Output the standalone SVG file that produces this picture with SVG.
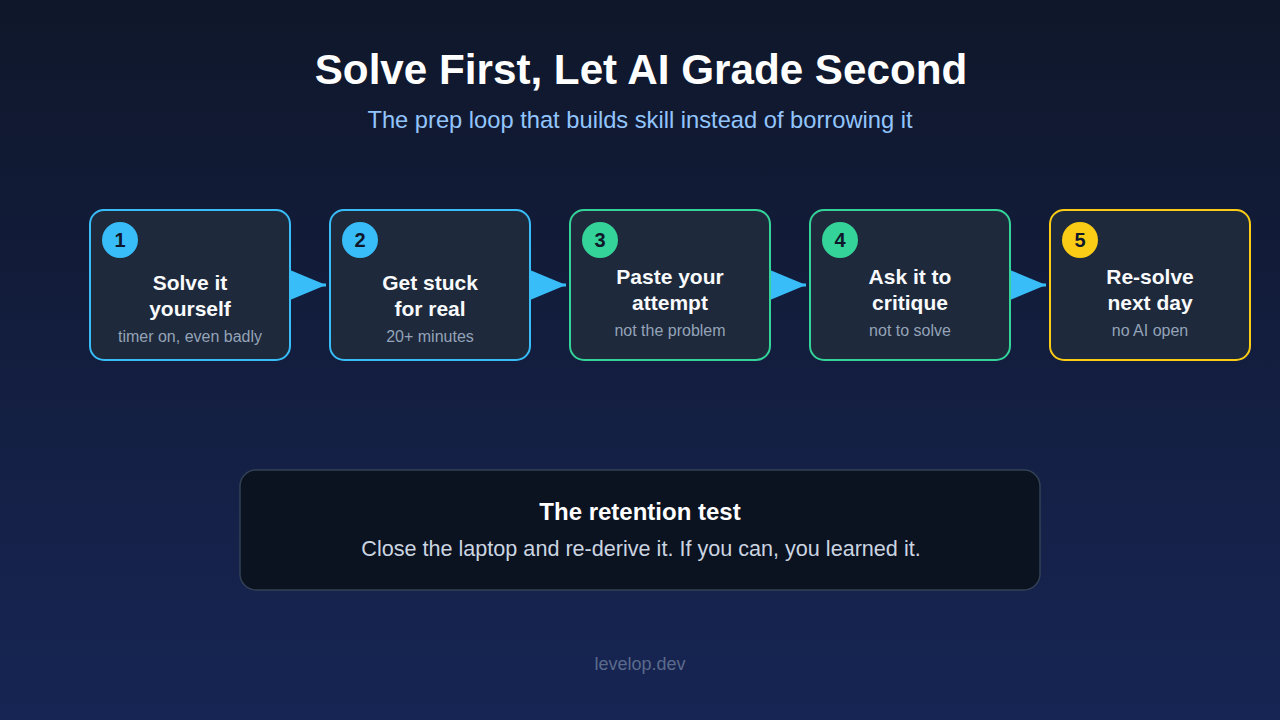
<svg xmlns="http://www.w3.org/2000/svg" width="1280" height="720" viewBox="0 0 1280 720">
  <defs>
    <linearGradient id="bg" x1="0" y1="0" x2="0" y2="1">
      <stop offset="0" stop-color="#0f172a"/>
      <stop offset="1" stop-color="#172554"/>
    </linearGradient>
    <marker id="arrow" markerWidth="12" markerHeight="10" refX="12" refY="5" orient="auto" markerUnits="strokeWidth">
      <path d="M0,0 L12,5 L0,10 z" fill="#38bdf8"/>
    </marker>
    <style>
      text { font-family: "Liberation Sans", Arial, sans-serif; text-anchor: middle; }
      .title { font-size: 42.2px; font-weight: bold; fill: #ffffff; }
      .subtitle { font-size: 23.7px; fill: #93c5fd; }
      .card { fill: #1e293b; stroke-width: 2; }
      .blue { stroke: #38bdf8; }
      .green { stroke: #34d399; }
      .yellow { stroke: #facc15; }
      .num { font-size: 20px; font-weight: bold; fill: #0f172a; }
      .head { font-size: 21px; font-weight: bold; fill: #f8fafc; }
      .sub { font-size: 16px; fill: #94a3b8; }
      .conn { stroke: #38bdf8; stroke-width: 3; fill: none; }
      .box { fill: #0b1220; stroke: #334155; stroke-width: 1.5; }
      .boxtitle { font-size: 24px; font-weight: bold; fill: #ffffff; }
      .boxbody { font-size: 21.6px; fill: #cbd5e1; }
      .footer { font-size: 18px; fill: #5b6b8c; }
    </style>
  </defs>
  <rect x="0" y="0" width="1280" height="720" fill="url(#bg)"/>

  <text class="title" x="641" y="84">Solve First, Let AI Grade Second</text>
  <text class="subtitle" x="640" y="128">The prep loop that builds skill instead of borrowing it</text>

  <g id="connectors">
    <line class="conn" x1="290" y1="285" x2="326" y2="285" marker-end="url(#arrow)"/>
    <line class="conn" x1="530" y1="285" x2="566" y2="285" marker-end="url(#arrow)"/>
    <line class="conn" x1="770" y1="285" x2="806" y2="285" marker-end="url(#arrow)"/>
    <line class="conn" x1="1010" y1="285" x2="1046" y2="285" marker-end="url(#arrow)"/>
  </g>

  <g id="step1">
    <rect class="card blue" x="90" y="210" width="200" height="150" rx="14"/>
    <circle cx="120" cy="240" r="18" fill="#38bdf8"/>
    <text class="num" x="120" y="247">1</text>
    <text class="head" x="190" y="290">Solve it</text>
    <text class="head" x="190" y="316">yourself</text>
    <text class="sub" x="190" y="342">timer on, even badly</text>
  </g>

  <g id="step2">
    <rect class="card blue" x="330" y="210" width="200" height="150" rx="14"/>
    <circle cx="360" cy="240" r="18" fill="#38bdf8"/>
    <text class="num" x="360" y="247">2</text>
    <text class="head" x="430" y="290">Get stuck</text>
    <text class="head" x="430" y="316">for real</text>
    <text class="sub" x="430" y="342">20+ minutes</text>
  </g>

  <g id="step3">
    <rect class="card green" x="570" y="210" width="200" height="150" rx="14"/>
    <circle cx="600" cy="240" r="18" fill="#34d399"/>
    <text class="num" x="600" y="247">3</text>
    <text class="head" x="670" y="284">Paste your</text>
    <text class="head" x="670" y="310">attempt</text>
    <text class="sub" x="670" y="336">not the problem</text>
  </g>

  <g id="step4">
    <rect class="card green" x="810" y="210" width="200" height="150" rx="14"/>
    <circle cx="840" cy="240" r="18" fill="#34d399"/>
    <text class="num" x="840" y="247">4</text>
    <text class="head" x="910" y="284">Ask it to</text>
    <text class="head" x="910" y="310">critique</text>
    <text class="sub" x="910" y="336">not to solve</text>
  </g>

  <g id="step5">
    <rect class="card yellow" x="1050" y="210" width="200" height="150" rx="14"/>
    <circle cx="1080" cy="240" r="18" fill="#facc15"/>
    <text class="num" x="1080" y="247">5</text>
    <text class="head" x="1150" y="284">Re-solve</text>
    <text class="head" x="1150" y="310">next day</text>
    <text class="sub" x="1150" y="336">no AI open</text>
  </g>

  <g id="retention">
    <rect class="box" x="240" y="470" width="800" height="120" rx="16"/>
    <text class="boxtitle" x="640" y="520">The retention test</text>
    <text class="boxbody" x="641" y="556">Close the laptop and re-derive it. If you can, you learned it.</text>
  </g>

  <text class="footer" x="640" y="670">levelop.dev</text>
</svg>
